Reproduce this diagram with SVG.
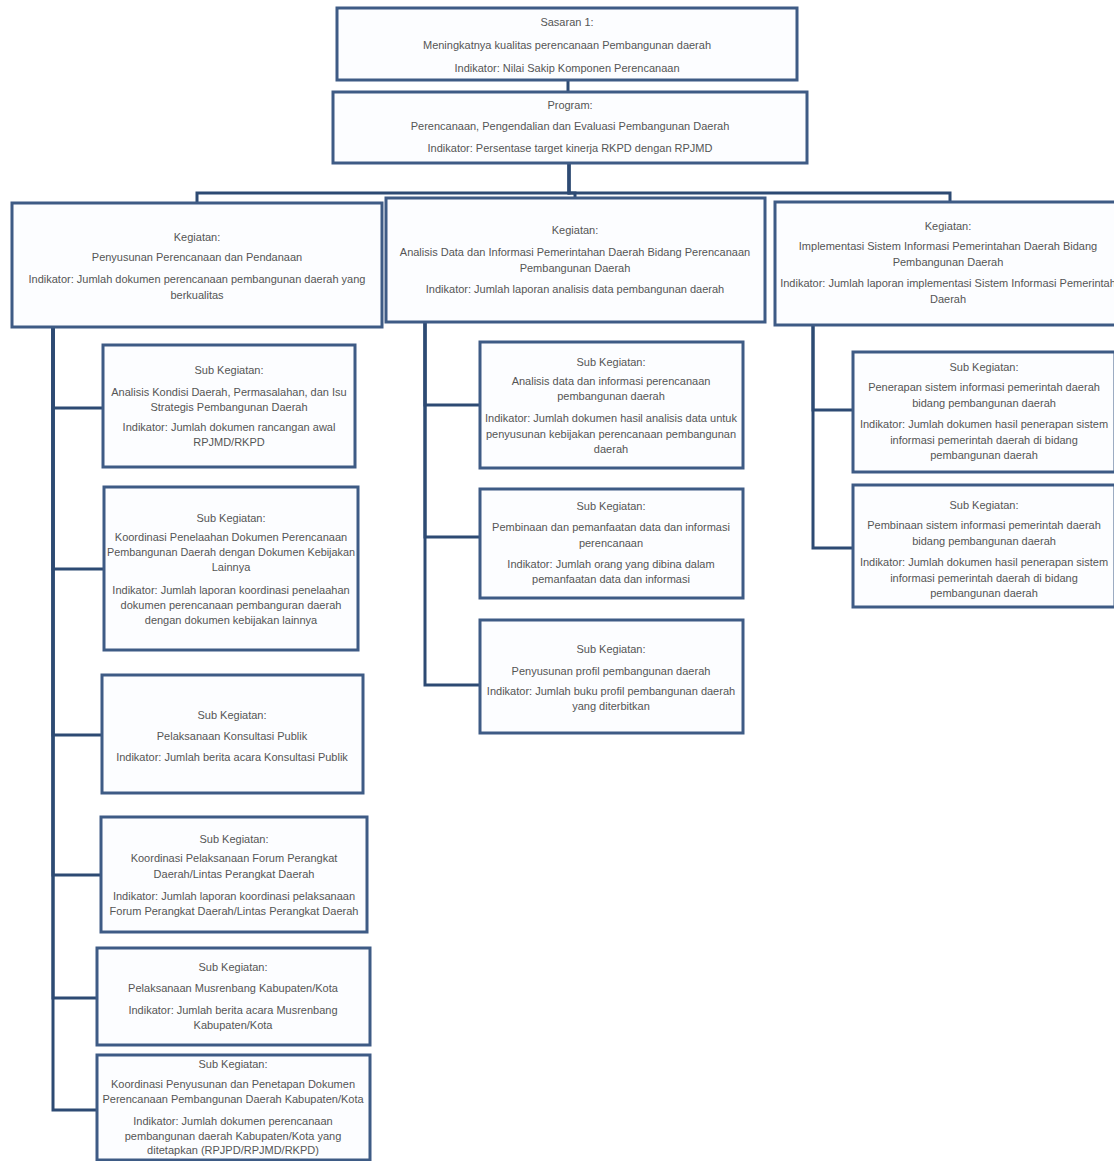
<svg xmlns="http://www.w3.org/2000/svg" width="1114" height="1161" viewBox="0 0 1114 1161">
<style>
.box rect{fill:#fcfdff;stroke:#3e5b85;stroke-width:3}
.box text{font-family:"Liberation Sans",Arial,sans-serif;font-size:11px;fill:#555555;text-anchor:middle}
.conn path{fill:none;stroke:#2d4a73;stroke-width:3}
</style>
<rect width="1114" height="1161" fill="#ffffff"/>
<g class="conn" id="connectors">
<path d="M568,80 V92"/>
<path d="M569,163 V193 H197 V203"/>
<path d="M569,163 V193 H575 V198"/>
<path d="M569,163 V193 H950 V202"/>
<path d="M53,327 V408 H103"/>
<path d="M53,327 V569 H104"/>
<path d="M53,327 V735 H102"/>
<path d="M53,327 V875 H101"/>
<path d="M53,327 V998 H97"/>
<path d="M53,327 V1110 H97"/>
<path d="M425,322 V405 H480"/>
<path d="M425,322 V537 H480"/>
<path d="M425,322 V685 H480"/>
<path d="M813,325 V410 H853"/>
<path d="M813,325 V548 H853"/>
</g>
<g class="box" id="sasaran">
<rect x="337" y="8" width="460" height="72"/>
<text x="567" y="26">Sasaran 1:</text>
<text x="567" y="49">Meningkatnya kualitas perencanaan Pembangunan daerah</text>
<text x="567" y="72">Indikator: Nilai Sakip Komponen Perencanaan</text>
</g>
<g class="box" id="program">
<rect x="333" y="92" width="474" height="71"/>
<text x="570" y="109">Program:</text>
<text x="570" y="130">Perencanaan, Pengendalian dan Evaluasi Pembangunan Daerah</text>
<text x="570" y="152">Indikator: Persentase target kinerja RKPD dengan RPJMD</text>
</g>
<g class="box" id="kegiatan1">
<rect x="12" y="203" width="370" height="124"/>
<text x="197" y="241">Kegiatan:</text>
<text x="197" y="261">Penyusunan Perencanaan dan Pendanaan</text>
<text x="197" y="283">Indikator: Jumlah dokumen perencanaan pembangunan daerah yang</text>
<text x="197" y="299">berkualitas</text>
</g>
<g class="box" id="kegiatan2">
<rect x="386" y="198" width="379" height="124"/>
<text x="575" y="234">Kegiatan:</text>
<text x="575" y="256">Analisis Data dan Informasi Pemerintahan Daerah Bidang Perencanaan</text>
<text x="575" y="272">Pembangunan Daerah</text>
<text x="575" y="293">Indikator: Jumlah laporan analisis data pembangunan daerah</text>
</g>
<g class="box" id="kegiatan3">
<rect x="775" y="202" width="347" height="123"/>
<text x="948" y="230">Kegiatan:</text>
<text x="948" y="250">Implementasi Sistem Informasi Pemerintahan Daerah Bidang</text>
<text x="948" y="266">Pembangunan Daerah</text>
<text x="948" y="287">Indikator: Jumlah laporan implementasi Sistem Informasi Pemerintah</text>
<text x="948" y="303">Daerah</text>
</g>
<g class="box" id="sub1a">
<rect x="103" y="345" width="252" height="122"/>
<text x="229" y="374">Sub Kegiatan:</text>
<text x="229" y="396">Analisis Kondisi Daerah, Permasalahan, dan Isu</text>
<text x="229" y="411">Strategis Pembangunan Daerah</text>
<text x="229" y="431">Indikator: Jumlah dokumen rancangan awal</text>
<text x="229" y="446">RPJMD/RKPD</text>
</g>
<g class="box" id="sub1b">
<rect x="104" y="487" width="254" height="163"/>
<text x="231" y="522">Sub Kegiatan:</text>
<text x="231" y="541">Koordinasi Penelaahan Dokumen Perencanaan</text>
<text x="231" y="556" textLength="248" lengthAdjust="spacingAndGlyphs">Pembangunan Daerah dengan Dokumen Kebijakan</text>
<text x="231" y="571">Lainnya</text>
<text x="231" y="594">Indikator: Jumlah laporan koordinasi penelaahan</text>
<text x="231" y="609">dokumen perencanaan pembanguran daerah</text>
<text x="231" y="624">dengan dokumen kebijakan lainnya</text>
</g>
<g class="box" id="sub1c">
<rect x="102" y="675" width="261" height="118"/>
<text x="232" y="719">Sub Kegiatan:</text>
<text x="232" y="740">Pelaksanaan Konsultasi Publik</text>
<text x="232" y="761">Indikator: Jumlah berita acara Konsultasi Publik</text>
</g>
<g class="box" id="sub1d">
<rect x="101" y="817" width="266" height="115"/>
<text x="234" y="843">Sub Kegiatan:</text>
<text x="234" y="862">Koordinasi Pelaksanaan Forum Perangkat</text>
<text x="234" y="878">Daerah/Lintas Perangkat Daerah</text>
<text x="234" y="900">Indikator: Jumlah laporan koordinasi pelaksanaan</text>
<text x="234" y="915">Forum Perangkat Daerah/Lintas Perangkat Daerah</text>
</g>
<g class="box" id="sub1e">
<rect x="97" y="948" width="273" height="97"/>
<text x="233" y="971">Sub Kegiatan:</text>
<text x="233" y="992">Pelaksanaan Musrenbang Kabupaten/Kota</text>
<text x="233" y="1014">Indikator: Jumlah berita acara Musrenbang</text>
<text x="233" y="1029">Kabupaten/Kota</text>
</g>
<g class="box" id="sub1f">
<rect x="97" y="1055" width="273" height="105"/>
<text x="233" y="1068">Sub Kegiatan:</text>
<text x="233" y="1088">Koordinasi Penyusunan dan Penetapan Dokumen</text>
<text x="233" y="1103">Perencanaan Pembangunan Daerah Kabupaten/Kota</text>
<text x="233" y="1125">Indikator: Jumlah dokumen perencanaan</text>
<text x="233" y="1140">pembangunan daerah Kabupaten/Kota yang</text>
<text x="233" y="1154">ditetapkan (RPJPD/RPJMD/RKPD)</text>
</g>
<g class="box" id="sub2a">
<rect x="480" y="342" width="263" height="126"/>
<text x="611" y="366">Sub Kegiatan:</text>
<text x="611" y="385">Analisis data dan informasi perencanaan</text>
<text x="611" y="400">pembangunan daerah</text>
<text x="611" y="422">Indikator: Jumlah dokumen hasil analisis data untuk</text>
<text x="611" y="438">penyusunan kebijakan perencanaan pembangunan</text>
<text x="611" y="453">daerah</text>
</g>
<g class="box" id="sub2b">
<rect x="480" y="489" width="263" height="109"/>
<text x="611" y="510">Sub Kegiatan:</text>
<text x="611" y="531">Pembinaan dan pemanfaatan data dan informasi</text>
<text x="611" y="547">perencanaan</text>
<text x="611" y="568">Indikator: Jumlah orang yang dibina dalam</text>
<text x="611" y="583">pemanfaatan data dan informasi</text>
</g>
<g class="box" id="sub2c">
<rect x="480" y="620" width="263" height="113"/>
<text x="611" y="653">Sub Kegiatan:</text>
<text x="611" y="675">Penyusunan profil pembangunan daerah</text>
<text x="611" y="695">Indikator: Jumlah buku profil pembangunan daerah</text>
<text x="611" y="710">yang diterbitkan</text>
</g>
<g class="box" id="sub3a">
<rect x="853" y="352" width="262" height="120"/>
<text x="984" y="371">Sub Kegiatan:</text>
<text x="984" y="391">Penerapan sistem informasi  pemerintah daerah</text>
<text x="984" y="407">bidang pembangunan daerah</text>
<text x="984" y="428">Indikator: Jumlah dokumen hasil penerapan sistem</text>
<text x="984" y="444">informasi pemerintah daerah di bidang</text>
<text x="984" y="459">pembangunan daerah</text>
</g>
<g class="box" id="sub3b">
<rect x="853" y="485" width="262" height="122"/>
<text x="984" y="509">Sub Kegiatan:</text>
<text x="984" y="529">Pembinaan  sistem informasi pemerintah daerah</text>
<text x="984" y="545">bidang pembangunan daerah</text>
<text x="984" y="566">Indikator: Jumlah dokumen hasil penerapan sistem</text>
<text x="984" y="582">informasi pemerintah daerah di bidang</text>
<text x="984" y="597">pembangunan daerah</text>
</g>
</svg>
